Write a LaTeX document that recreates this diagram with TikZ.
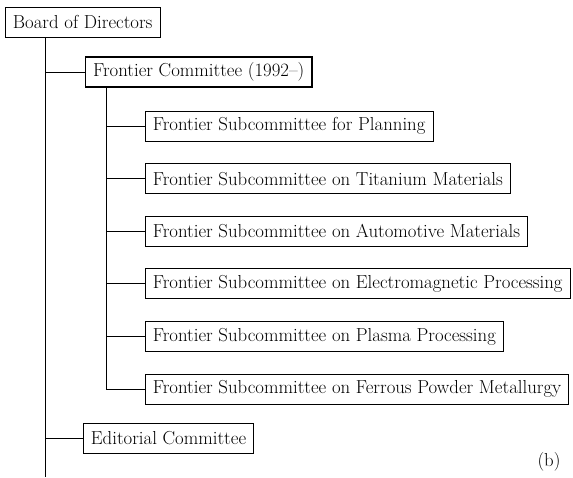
\documentclass[tikz,border=0pt]{standalone}
\usepackage{tikz}

\tikzset{
  box/.style={draw, line width=0.8pt, inner xsep=7.5pt, inner ysep=0pt,
    minimum height=30pt, anchor=west},
  link/.style={line width=0.8pt}
}

\begin{document}
\begin{tikzpicture}[x=1pt, y=-1pt, font=\fontsize{18.8}{22}\selectfont]
    \useasboundingbox (0,0) rectangle (573,477);
    \coordinate (trunk) at (45,477);
    \coordinate (sub) at (106,0);
    \node [box] (B) at (5,22) {Board of Directors};
    \node [box, line width=1.3pt] (FC) at (85,72) {Frontier Committee (1992--)};
    \node [box] (E) at (83,438) {Editorial Committee};
    \draw [link] (B.south -| trunk) -- (trunk);
    \draw [link] (FC.west -| trunk) -- (FC.west);
    \draw [link] (E.west -| trunk) -- (E.west);
    \foreach \i/\txt in {1/for Planning,2/on Titanium Materials,3/on Automotive Materials,
        4/on Electromagnetic Processing,5/on Plasma Processing,6/on Ferrous Powder Metallurgy} {
    	\node [box] (S\i) at (145,73.4+52.6*\i) {Frontier Subcommittee \txt};
    	\draw [link] (S\i.west -| sub) -- (S\i.west);
    }
    \draw [link] (FC.south -| sub) -- (S6.west -| sub);
    \node (lbl) at (549,462) {(b)};
\end{tikzpicture}
\end{document}
